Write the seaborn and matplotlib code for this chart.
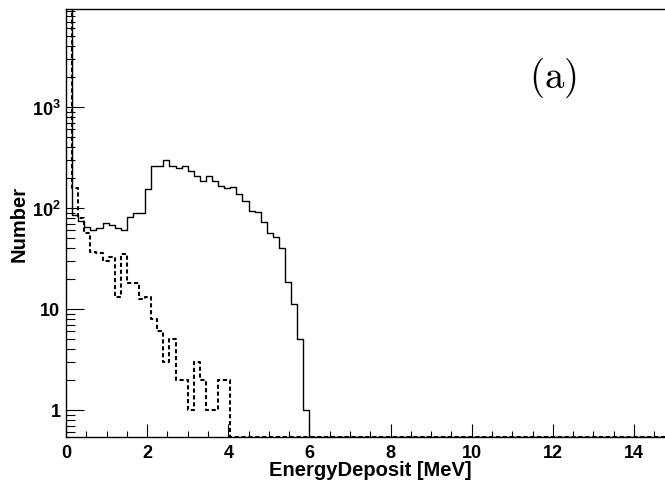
import numpy as np
import pandas as pd
import matplotlib
matplotlib.use("Agg")
import matplotlib.pyplot as plt
import seaborn as sns
from matplotlib.ticker import FixedLocator, LogLocator, MultipleLocator, FuncFormatter, NullFormatter

# ---- data (histogram counts, 0.15 MeV bins from 0 to 15 MeV) ----
bin_width = 0.15
n_bins = 100
solid_counts = [10000, 85, 75, 65, 61, 63, 71, 68, 64, 61,
                81, 89, 89, 154, 262, 262, 298, 262, 249, 262,
                232, 209, 185, 209, 183, 166, 158, 163, 137, 118,
                94, 91, 73, 56, 52, 40, 18.5, 11.2, 5.1, 1]
dashed_counts = [12000, 158, 80, 57, 37, 36, 30, 33, 13, 35,
                 18, 18, 12.5, 13, 8, 6, 3, 5, 2, 2,
                 1, 3, 2, 1, 1, 2, 2]
x_ticks = [0, 2, 4, 6, 8, 10, 12, 14]
y_ticks = [1, 10, 100, 1000]
y_tick_labels = ["1", "10", r"$\mathbf{10^{2}}$", r"$\mathbf{10^{3}}$"]
x_label = "EnergyDeposit [MeV]"
y_label = "Number"
panel_label = r"$(\mathrm{a})$"

ymin, ymax = 0.54, 9340
xmin, xmax = 0, 15

edges = np.arange(n_bins + 1) * bin_width
def padded(c):
    arr = np.zeros(n_bins)
    arr[:len(c)] = c
    arr = np.where(arr > 0, arr, ymin)  # empty bins drawn on the frame bottom
    return np.append(arr, arr[-1])

df = pd.DataFrame({"edge": edges, "solid": padded(solid_counts), "dashed": padded(dashed_counts)})

sns.set_theme(style="ticks")
plt.rcParams["font.family"] = ["Liberation Sans", "DejaVu Sans"]
plt.rcParams["font.weight"] = "bold"
plt.rcParams["mathtext.fontset"] = "custom"
plt.rcParams["mathtext.rm"] = "Liberation Sans:bold"
plt.rcParams["mathtext.bf"] = "Liberation Sans:bold"
plt.rcParams["mathtext.it"] = "Liberation Sans:bold:italic"
for k in ["text.color", "axes.labelcolor", "xtick.color", "ytick.color", "axes.edgecolor"]:
    plt.rcParams[k] = "black"

W, H = 665, 489
fig = plt.figure(figsize=(W / 100, H / 100), dpi=100)
left_px, right_px, top_px, bot_px = 66, 674.6, 10, 438
ax = fig.add_axes([left_px / W, 1 - bot_px / H, (right_px - left_px) / W, (bot_px - top_px) / H])
ax.set_facecolor("white")

sns.lineplot(data=df, x="edge", y="solid", drawstyle="steps-post", color="black",
             linewidth=1.0, estimator=None, ax=ax)
sns.lineplot(data=df, x="edge", y="dashed", drawstyle="steps-post", color="black",
             linewidth=1.5, linestyle=(0, (2.0, 1.3)), estimator=None, ax=ax)

ax.set_yscale("log")
ax.set_xlim(xmin, xmax)
ax.set_ylim(ymin, ymax)

ax.xaxis.set_major_locator(FixedLocator(x_ticks))
ax.xaxis.set_minor_locator(MultipleLocator(0.5))
ax.yaxis.set_major_locator(FixedLocator(y_ticks))
ax.yaxis.set_major_formatter(FuncFormatter(lambda v, p: y_tick_labels[y_ticks.index(round(v))] if round(v) in y_ticks else ""))
ax.yaxis.set_minor_locator(LogLocator(base=10, subs=np.arange(2, 10), numticks=50))
ax.yaxis.set_minor_formatter(NullFormatter())

ax.tick_params(axis="x", which="major", direction="in", length=9.4, width=0.8, color="black",
               labelcolor="black", labelsize=13, pad=5, top=False)
ax.tick_params(axis="x", which="minor", direction="in", length=4.3, width=0.8, color="black", top=False)
ax.tick_params(axis="y", which="major", direction="in", length=13, width=0.8, color="black",
               labelcolor="black", labelsize=13, pad=4, right=False)
ax.tick_params(axis="y", which="minor", direction="in", length=6.5, width=0.8, color="black", right=False)

for s in ax.spines.values():
    s.set_color("black")
    s.set_linewidth(1.0)

ax.set_xlabel(x_label, fontsize=14.5, fontweight="bold", color="black")
ax.set_ylabel(y_label, fontsize=14.5, fontweight="bold", color="black")
ax.xaxis.set_label_coords((370 - left_px) / (right_px - left_px), -(471 - bot_px) / (bot_px - top_px))
ax.xaxis.label.set_va("center")
ax.yaxis.set_label_coords(-(left_px - 19) / (right_px - left_px), 0.5)
ax.yaxis.label.set_va("center")

fig.text(553 / W, 1 - 78 / H, panel_label, math_fontfamily="cm", fontsize=28,
         ha="center", va="center", color="black")

fig.savefig("out.png", dpi=100, facecolor="white")
